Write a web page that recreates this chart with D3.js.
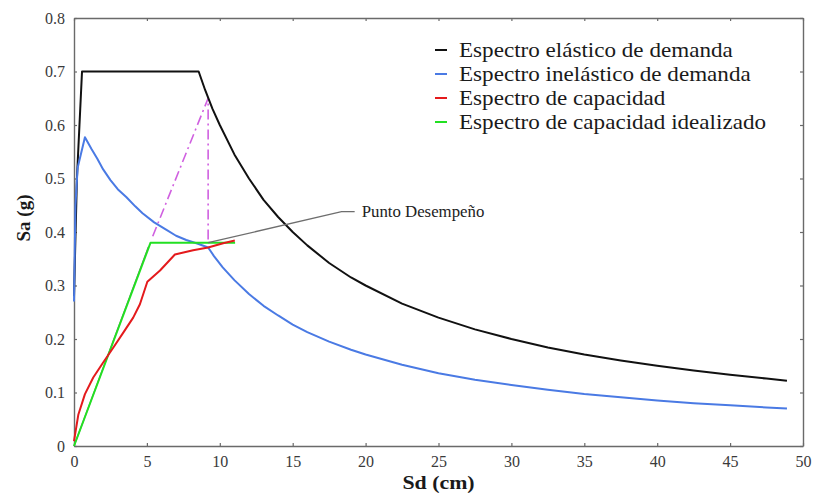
<!DOCTYPE html>
<html>
<head>
<meta charset="utf-8">
<script src="https://cdn.jsdelivr.net/npm/d3@7"></script>
<style>
    body { margin: 0; background: #fff; }
    #div_espectro { width: 813px; height: 495px; }
</style>
</head>
<body>
<div id="div_espectro"></div>
<script>
// [Sd (cm), Sa (g)] pairs for each curve
var elasticDemand = [
    [0, 0.28], [0.2, 0.5], [0.55, 0.70], [8.55, 0.70], [9, 0.665], [9.5, 0.63], [10, 0.60],
    [11, 0.545], [12, 0.50], [13, 0.46], [14, 0.428], [15, 0.40], [16, 0.375], [17.5, 0.342],
    [19, 0.315], [20, 0.30], [22.5, 0.266], [25, 0.24], [27.5, 0.218], [30, 0.20], [32.5, 0.184],
    [35, 0.171], [37.5, 0.16], [40, 0.15], [42.5, 0.141], [45, 0.133], [47.5, 0.126], [48.9, 0.122]
];
var inelasticDemand = [
    [0, 0.27], [0.1, 0.45], [0.25, 0.52], [0.75, 0.577], [1.2, 0.555], [1.6, 0.537], [2.0, 0.517],
    [2.5, 0.497], [3.0, 0.48], [3.6, 0.465], [4.2, 0.448], [4.7, 0.435], [5.5, 0.418], [6.4, 0.403],
    [7.0, 0.393], [7.7, 0.385], [8.5, 0.378], [9.2, 0.371], [9.6, 0.355], [10.2, 0.334], [11, 0.31],
    [12, 0.284], [13, 0.262], [14, 0.244], [15, 0.227], [16, 0.213], [17.5, 0.195], [19, 0.18],
    [20, 0.171], [22.5, 0.152], [25, 0.136], [27.5, 0.124], [30, 0.114], [32.5, 0.105], [35, 0.097],
    [37.5, 0.091], [40, 0.085], [42.5, 0.08], [45, 0.076], [47.5, 0.072], [48.9, 0.07]
];
var capacity = [
    [0, 0.009], [0.3, 0.059], [0.75, 0.097], [1.32, 0.128], [2.0, 0.156], [2.7, 0.184], [3.38, 0.212],
    [4.06, 0.24], [4.52, 0.265], [5.03, 0.307], [5.9, 0.328], [6.92, 0.358], [8.17, 0.366],
    [9.2, 0.371], [10.23, 0.379], [11.03, 0.384]
];
var capacityIdealized = [[0, 0], [5.25, 0.38], [11.05, 0.38]];
var initialStiffness = [[0, 0], [5.1, 0.372]];
var constructionLine = [[5.4, 0.392], [9.2, 0.65], [9.2, 0.38]];

var performancePoint = [9.2, 0.38];
var labelAnchor = [[18.35, 0.438], [19.25, 0.438]];
var performanceLabel = "Punto Desempeño";

var xTicks = [0, 5, 10, 15, 20, 25, 30, 35, 40, 45, 50];
var yTicks = [0, 0.1, 0.2, 0.3, 0.4, 0.5, 0.6, 0.7, 0.8];

var legendNames = [
    "Espectro elástico de demanda",
    "Espectro inelástico de demanda",
    "Espectro de capacidad",
    "Espectro de capacidad idealizado"
];
var legendColors = ["#111111", "#4a7ae4", "#e41a1c", "#22e022"];

var SERIF = "'Liberation Serif', 'Times New Roman', 'DejaVu Serif', serif";

function renderSpectrumChart(div_id) {
    var renderDiv = document.getElementById(div_id);
    renderDiv.innerHTML = "";
    var div_width = renderDiv.offsetWidth;
    var div_height = renderDiv.offsetHeight;
    var margin = { top: 18, right: 10, bottom: 49, left: 74 },
        width = div_width - margin.left - margin.right,
        height = div_height - margin.top - margin.bottom;

    var x = d3.scaleLinear().domain([0, 50]).range([0, width]);
    var y = d3.scaleLinear().domain([0, 0.8]).range([height, 0]);

    var svg = d3.select(renderDiv).append("svg")
        .attr("width", div_width)
        .attr("height", div_height)
        .append("g")
        .attr("transform", "translate(" + margin.left + "," + margin.top + ")");

    var line = d3.line()
        .x(function (d) { return x(d[0]); })
        .y(function (d) { return y(d[1]); });

    var fmtY = function (d) { return d === 0 ? "0" : d3.format(".1f")(d); };

    // axes, ticks point inwards on every side
    svg.append("g")
        .attr("transform", "translate(0," + height + ")")
        .call(d3.axisBottom(x).tickValues(xTicks).tickSize(-3).tickPadding(10).tickSizeOuter(0));
    svg.append("g")
        .call(d3.axisLeft(y).tickValues(yTicks).tickFormat(fmtY).tickSize(-3).tickPadding(9).tickSizeOuter(0));
    svg.append("g")
        .call(d3.axisTop(x).tickValues(xTicks).tickSize(-3).tickFormat("").tickSizeOuter(0));
    svg.append("g")
        .attr("transform", "translate(" + width + ",0)")
        .call(d3.axisRight(y).tickValues(yTicks).tickSize(-3).tickFormat("").tickSizeOuter(0));

    svg.selectAll(".domain").attr("stroke", "#6a6a6a").attr("stroke-width", 1.4);
    svg.selectAll(".tick line").attr("stroke", "#6a6a6a").attr("stroke-width", 1.2);
    svg.selectAll(".tick text")
        .attr("font-family", SERIF)
        .attr("font-size", 16)
        .attr("fill", "#3a3a3a");

    // construction lines behind the curves
    svg.append("path")
        .datum(initialStiffness)
        .attr("d", line)
        .style("fill", "none")
        .style("stroke", "#777")
        .style("stroke-width", 1.3);

    svg.append("path")
        .datum(constructionLine)
        .attr("d", line)
        .style("fill", "none")
        .style("stroke", "#d060e0")
        .style("stroke-width", 1.6)
        .style("stroke-dasharray", "10,4,2,4");

    var curves = [elasticDemand, inelasticDemand, capacity, capacityIdealized];
    var order = [0, 1, 3, 2];
    order.forEach(function (i) {
        svg.append("path")
            .datum(curves[i])
            .attr("d", line)
            .style("fill", "none")
            .style("stroke", legendColors[i])
            .style("stroke-width", 2)
            .style("stroke-linejoin", "round");
    });

    // performance point leader
    svg.append("path")
        .datum([performancePoint].concat(labelAnchor))
        .attr("d", line)
        .style("fill", "none")
        .style("stroke", "#6e6e6e")
        .style("stroke-width", 1.3);

    svg.append("text")
        .attr("transform", "translate(" + (x(labelAnchor[1][0]) + 7) + "," + (y(labelAnchor[1][1]) + 5) + ") scale(1.05,1)")
        .attr("font-family", SERIF)
        .attr("font-size", 16)
        .attr("fill", "#222")
        .text(performanceLabel);

    // legend
    var legend = svg.selectAll("g.legend")
        .data(legendNames)
        .enter().append("g")
        .attr("class", "legend")
        .attr("transform", function (d, i) { return "translate(361," + (32 + i * 24) + ")"; });

    legend.append("line")
        .attr("x1", 0).attr("x2", 12)
        .attr("y1", 0).attr("y2", 0)
        .style("stroke", function (d, i) { return legendColors[i]; })
        .style("stroke-width", 2);

    legend.append("text")
        .attr("transform", "translate(24,7) scale(1.155,1)")
        .attr("font-family", SERIF)
        .attr("font-size", 20)
        .attr("fill", "#1a1a1a")
        .text(function (d) { return d; });

    // axis titles
    svg.append("text")
        .attr("text-anchor", "middle")
        .attr("transform", "translate(" + (width / 2) + "," + (height + 43) + ") scale(1.15,1)")
        .attr("font-family", SERIF)
        .attr("font-size", 19)
        .attr("font-weight", "bold")
        .attr("fill", "#1a1a1a")
        .text("Sd (cm)");

    svg.append("text")
        .attr("text-anchor", "middle")
        .attr("transform", "translate(-44," + (y(0.4) - 14) + ") rotate(-90)")
        .attr("font-family", SERIF)
        .attr("font-size", 19)
        .attr("font-weight", "bold")
        .attr("fill", "#1a1a1a")
        .text("Sa (g)");
}

renderSpectrumChart("div_espectro");
</script>
</body>
</html>
